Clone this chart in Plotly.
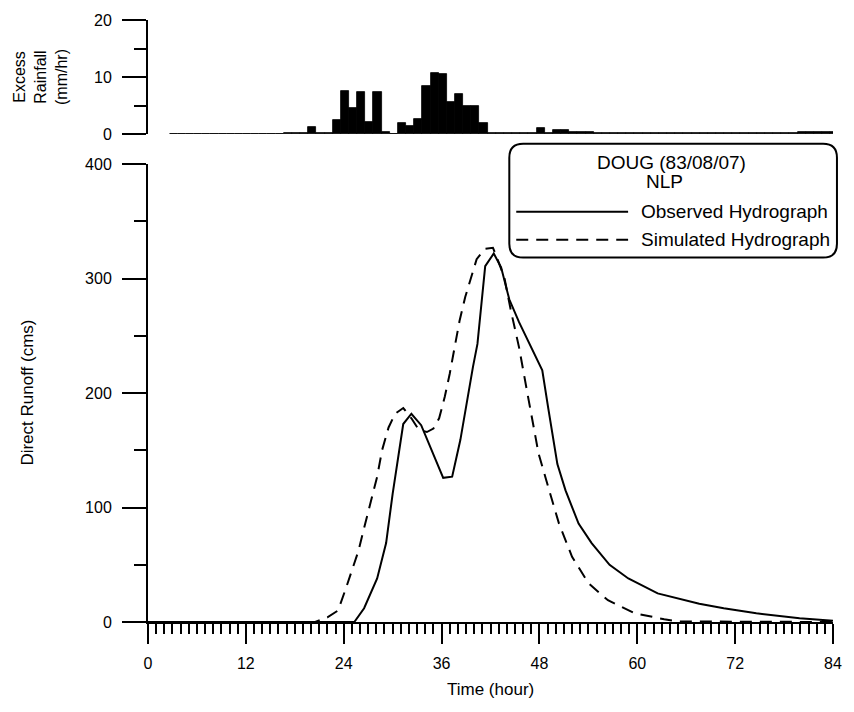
import plotly.graph_objects as go

# ---------------- data ----------------
rain_hour = list(range(3, 85))
rain_value = ([0.1] * 14 + [0.2, 0.2, 0.2] + [1.2] + [0.15, 0.15] +
              [2.5, 7.6, 4.5, 7.4, 2.2, 7.3, 0.3, 0.1, 2.0, 1.5, 2.6,
               8.4, 10.7, 10.5, 5.7, 7.0, 4.9, 4.9, 1.9] +
              [0.15] * 6 + [1.1, 0.2, 0.7, 0.7, 0.3, 0.3, 0.3] +
              [0.15] * 25 + [0.3] * 5)

obs_time = [0, 25.3, 26.5, 27.3, 28.1, 29.2, 30.0, 31.3, 32.3, 33.5,
            36.2, 37.3, 38.3, 39.85, 40.4, 41.35, 42.4, 43.3, 44.3, 45.5,
            48.35, 49.1, 50.2, 51.2, 52.8, 54.4, 56.6, 58.9, 62.5, 67.6,
            70.6, 74.6, 79.9, 84]
obs_flow = [0, 0, 12, 25, 38, 69, 112, 173, 182, 172,
            126, 127, 159, 223, 243, 311, 322, 310, 282, 262,
            220, 186, 138, 115, 86, 69, 50, 38, 25, 16,
            12, 7.6, 3.2, 1.2]

sim_time = [0, 20.5, 22.0, 23.3, 24.2, 25.0, 25.8, 26.6, 27.4, 28.1,
            28.7, 29.5, 30.3, 31.3, 32.3, 33.2, 34.2, 35.0, 35.7, 36.4,
            37.0, 37.6, 38.2, 38.9, 39.5, 40.3, 41.3, 42.3, 42.7, 43.7,
            44.5, 45.5, 46.6, 47.9, 49.2, 50.4, 52.0, 54.0, 56.4, 59.7,
            63.3, 65.0, 84]
sim_flow = [0, 0, 4, 10, 28, 45, 62, 85, 108, 127,
            150, 170, 182, 187, 178, 168, 166, 169, 178, 197,
            217, 240, 263, 284, 298, 317, 326, 327, 320, 301,
            272, 240, 197, 147, 115, 86, 57, 34, 19, 7.6,
            2.4, 0.5, 0]

x_ticks = [0, 12, 24, 36, 48, 60, 72, 84]
legend_title = ["DOUG (83/08/07)", "NLP"]
series_names = ["Observed Hydrograph", "Simulated Hydrograph"]

# ---------------- layout helpers ----------------
W, H = 854, 712
ML, MR, MT, MB = 148, 14, 19, 90
PW, PH = W - ML - MR, H - MT - MB


def px(x):
    return (x - ML) / PW


def py(y):
    return (H - MB - y) / PH


FONT = "Arial, Liberation Sans, sans-serif"

fig = go.Figure()

fig.add_trace(go.Bar(
    x=rain_hour, y=rain_value, xaxis="x2", yaxis="y2",
    width=1, offset=-0.35,
    marker=dict(color="black", line=dict(color="black", width=0.8)),
    showlegend=False, hoverinfo="x+y"))

fig.add_trace(go.Scatter(
    x=obs_time, y=obs_flow, mode="lines", name=series_names[0],
    line=dict(color="black", width=2), showlegend=False))

fig.add_trace(go.Scatter(
    x=sim_time, y=sim_flow, mode="lines", name=series_names[1],
    line=dict(color="black", width=2, dash="12px,8px"), showlegend=False))

axis_common = dict(showgrid=False, zeroline=False, showline=True,
                   linecolor="black", linewidth=2, ticks="outside",
                   tickcolor="black", tickwidth=2,
                   tickfont=dict(family=FONT, size=16, color="black"))

fig.update_layout(
    width=W, height=H,
    margin=dict(l=ML, r=MR, t=MT, b=MB),
    paper_bgcolor="white", plot_bgcolor="white",
    bargap=0,
    xaxis=dict(domain=[0, 1], anchor="y", range=[0, 84],
               tickmode="array", tickvals=x_ticks,
               ticklen=20, ticklabelstandoff=6,
               minor=dict(dtick=1, tick0=0, ticks="outside", ticklen=10,
                          tickwidth=1.5, tickcolor="black"),
               **axis_common),
    yaxis=dict(domain=[0, py(163.5)], anchor="x", range=[0, 400],
               tickmode="linear", tick0=0, dtick=100, ticklen=24,
               ticklabelstandoff=7,
               minor=dict(dtick=50, tick0=0, ticks="outside", ticklen=12,
                          tickwidth=2, tickcolor="black"),
               **axis_common),
    xaxis2=dict(domain=[0, 1], anchor="y2", range=[0, 84], visible=False),
    yaxis2=dict(domain=[py(133.3), 1], anchor="x2", range=[0, 20],
                tickmode="linear", tick0=0, dtick=10, ticklen=24,
                ticklabelstandoff=7,
                minor=dict(dtick=5, tick0=0, ticks="outside", ticklen=12,
                           tickwidth=2, tickcolor="black"),
                **axis_common),
)

title_font = dict(family=FONT, size=17, color="black")
leg_font = dict(family=FONT, size=19, color="black")
annotations = [
    dict(text="Direct Runoff (cms)", x=px(26), y=py(392), textangle=-90, font=title_font),
    dict(text="Excess<br>Rainfall<br>(mm/hr)", x=px(40), y=py(76), textangle=-90,
         font=dict(family=FONT, size=16, color="black")),
    dict(text="Time (hour)", x=px(494), y=py(690), font=title_font),
    dict(text=legend_title[0], x=px(677), y=py(162), font=leg_font),
    dict(text=legend_title[1], x=px(670), y=py(181), font=leg_font),
    dict(text=series_names[0], x=px(644), y=py(211), xanchor="left", font=leg_font),
    dict(text=series_names[1], x=px(644), y=py(239), xanchor="left", font=leg_font),
]
for a in annotations:
    a.setdefault("xanchor", "center")
    a.update(xref="paper", yref="paper", yanchor="middle", showarrow=False)
fig.update_layout(annotations=annotations)

# rounded legend box
x0, x1, y0, y1, r = 513, 844, 143, 257, 14
path = (f"M {px(x0 + r)} {py(y0)} L {px(x1 - r)} {py(y0)} "
        f"Q {px(x1)} {py(y0)} {px(x1)} {py(y0 + r)} "
        f"L {px(x1)} {py(y1 - r)} Q {px(x1)} {py(y1)} {px(x1 - r)} {py(y1)} "
        f"L {px(x0 + r)} {py(y1)} Q {px(x0)} {py(y1)} {px(x0)} {py(y1 - r)} "
        f"L {px(x0)} {py(y0 + r)} Q {px(x0)} {py(y0)} {px(x0 + r)} {py(y0)} Z")
shapes = [
    dict(type="path", path=path, xref="paper", yref="paper",
         line=dict(color="black", width=2), fillcolor="white", layer="above"),
    dict(type="line", xref="paper", yref="paper", x0=px(520), x1=px(633),
         y0=py(211), y1=py(211), line=dict(color="black", width=2)),
    dict(type="line", xref="paper", yref="paper", x0=px(520), x1=px(633),
         y0=py(239), y1=py(239), line=dict(color="black", width=2, dash="12px,8px")),
]
fig.update_layout(shapes=shapes)

fig.write_html("out.html")
